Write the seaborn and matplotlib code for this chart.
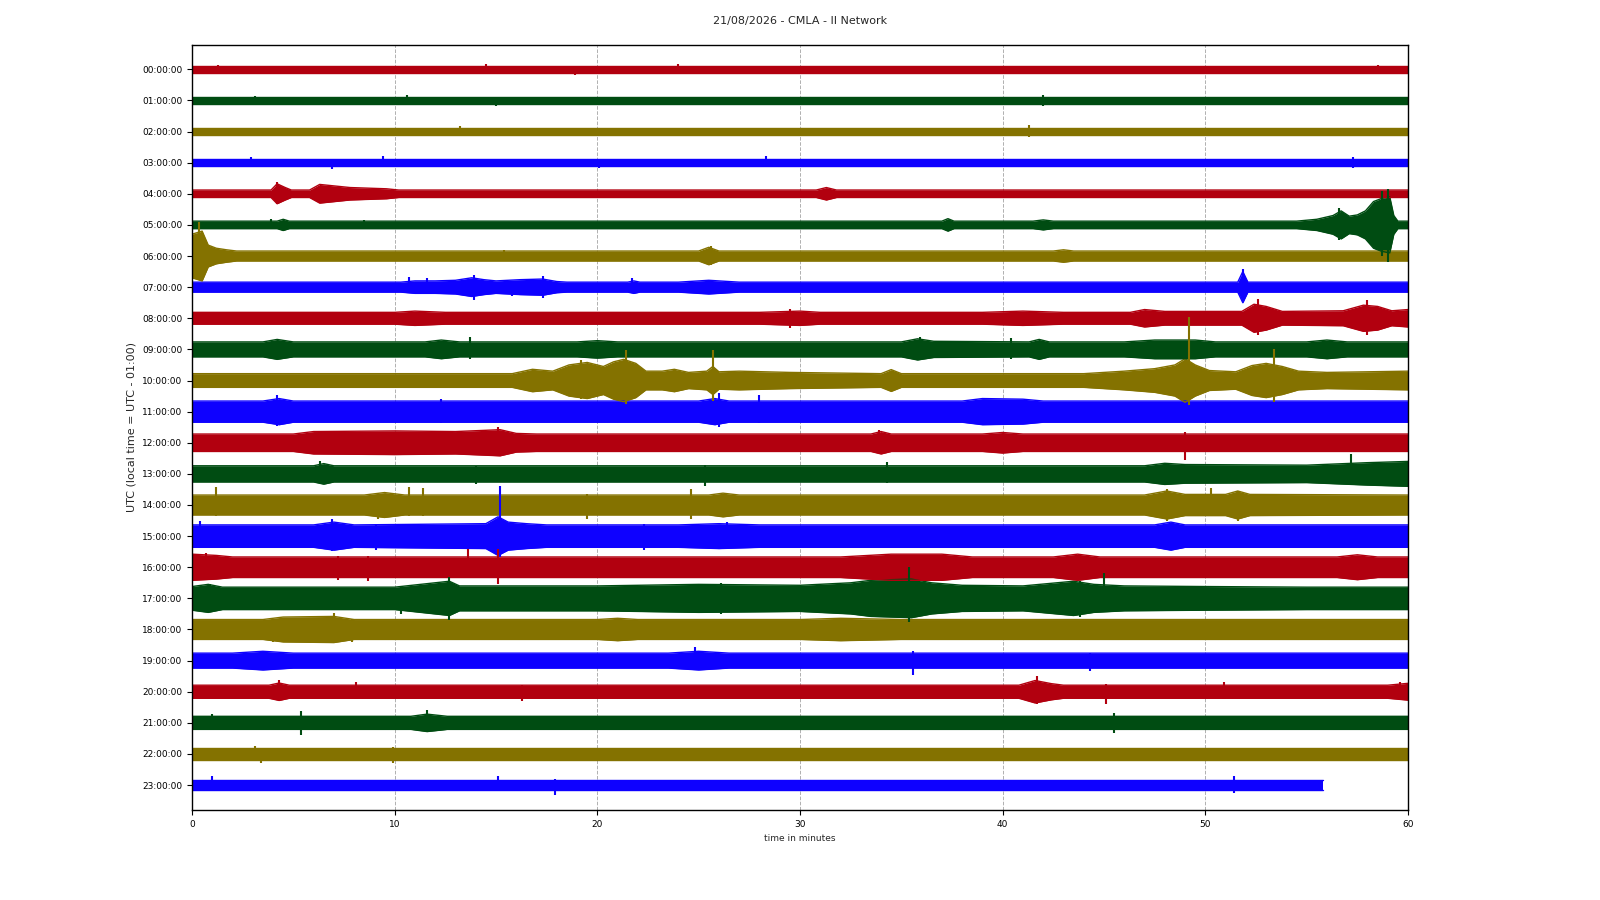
import numpy as np
import pandas as pd
import matplotlib
matplotlib.use("Agg")
import matplotlib.pyplot as plt
import seaborn as sns

title = "21/08/2026 - CMLA - II Network"
hour_labels = ["00:00:00", "01:00:00", "02:00:00", "03:00:00", "04:00:00",
               "05:00:00", "06:00:00", "07:00:00", "08:00:00", "09:00:00",
               "10:00:00", "11:00:00", "12:00:00", "13:00:00", "14:00:00",
               "15:00:00", "16:00:00", "17:00:00", "18:00:00", "19:00:00",
               "20:00:00", "21:00:00", "22:00:00", "23:00:00"]
trace_colors = ["#B2000F", "#004C12", "#847200", "#0E01FF"]

# background noise half-amplitude of each hourly trace (1 = trace spacing)
base_amp = [0.11, 0.12, 0.12, 0.12, 0.12, 0.12, 0.16, 0.16, 0.19, 0.24,
            0.22, 0.34, 0.28, 0.26, 0.32, 0.36, 0.33, 0.36, 0.32, 0.24,
            0.21, 0.21, 0.19, 0.17]
trace_end = [60] * 23 + [55.8]

# envelope vertices (minute, half-amplitude) where the noise rises
bursts = {
    4: [(3.9, 0.12), (4.2, 0.32), (4.6, 0.2), (4.9, 0.12), (5.8, 0.12),
        (6.3, 0.3), (6.9, 0.26), (7.8, 0.2), (9.6, 0.16), (10.2, 0.12),
        (30.8, 0.12), (31.3, 0.2), (31.8, 0.12)],
    5: [(4.2, 0.12), (4.5, 0.18), (4.8, 0.12), (37.0, 0.12), (37.3, 0.2),
        (37.6, 0.12), (41.5, 0.12), (42.0, 0.16), (42.5, 0.12), (54.5, 0.12),
        (55.5, 0.18), (56.3, 0.3), (56.7, 0.45), (57.1, 0.28), (57.5, 0.32),
        (57.9, 0.45), (58.3, 0.75), (58.7, 0.85), (59.1, 0.9), (59.3, 0.3),
        (59.5, 0.12)],
    6: [(0.0, 0.7), (0.5, 0.8), (0.8, 0.35), (1.2, 0.25), (1.7, 0.2),
        (2.2, 0.16), (25.0, 0.16), (25.5, 0.28), (26.0, 0.16), (42.5, 0.16),
        (43.0, 0.2), (43.5, 0.16)],
    7: [(10.3, 0.16), (11.0, 0.2), (12.0, 0.2), (13.0, 0.22), (13.8, 0.3),
        (14.4, 0.24), (15.0, 0.2), (16.2, 0.24), (17.3, 0.26), (18.0, 0.18),
        (18.5, 0.16), (21.5, 0.16), (21.8, 0.2), (22.1, 0.16), (24.0, 0.16),
        (25.5, 0.22), (27.0, 0.16), (51.6, 0.16), (51.85, 0.5), (52.1, 0.16)],
    8: [(10.0, 0.19), (11.0, 0.23), (12.5, 0.19), (28.0, 0.19), (30.0, 0.23),
        (31.0, 0.19), (39.0, 0.19), (41.0, 0.23), (43.0, 0.19), (46.3, 0.19),
        (47.0, 0.28), (48.0, 0.22), (51.8, 0.22), (52.4, 0.45), (53.0, 0.38),
        (53.8, 0.22), (56.8, 0.24), (57.8, 0.42), (58.5, 0.38), (59.2, 0.24),
        (60.0, 0.28)],
    9: [(3.5, 0.24), (4.2, 0.32), (5.0, 0.24), (11.5, 0.24), (12.3, 0.3),
        (13.2, 0.24), (19.0, 0.24), (20.0, 0.28), (21.0, 0.24), (35.0, 0.24),
        (35.8, 0.34), (36.6, 0.26), (41.3, 0.24), (41.8, 0.32), (42.3, 0.24),
        (46.0, 0.24), (47.5, 0.3), (49.5, 0.3), (50.5, 0.24), (55.0, 0.24),
        (56.0, 0.3), (57.0, 0.24)],
    10: [(15.8, 0.22), (16.8, 0.36), (17.8, 0.3), (18.6, 0.5), (19.5, 0.58),
         (20.3, 0.45), (20.8, 0.6), (21.3, 0.68), (21.9, 0.55), (22.4, 0.3),
         (23.2, 0.3), (23.8, 0.36), (24.5, 0.26), (25.4, 0.3), (25.7, 0.45),
         (26.0, 0.28), (27.0, 0.3), (29.5, 0.26), (34.0, 0.22), (34.5, 0.35),
         (35.0, 0.22), (44.0, 0.22), (46.0, 0.3), (47.5, 0.38), (48.5, 0.5),
         (49.0, 0.7), (49.5, 0.5), (50.2, 0.32), (51.5, 0.28), (52.3, 0.48),
         (53.0, 0.55), (53.8, 0.45), (54.6, 0.3), (56.0, 0.26), (58.0, 0.28),
         (60.0, 0.3)],
    11: [(3.5, 0.34), (4.3, 0.42), (5.0, 0.34), (25.0, 0.34), (25.8, 0.42),
         (26.5, 0.34), (38.0, 0.34), (39.0, 0.42), (41.0, 0.4), (42.0, 0.34)],
    12: [(5.0, 0.28), (6.0, 0.36), (10.0, 0.38), (13.0, 0.36), (14.5, 0.4),
         (15.2, 0.42), (16.0, 0.3), (17.0, 0.28), (33.5, 0.28), (34.0, 0.36),
         (34.5, 0.28), (39.0, 0.28), (40.0, 0.33), (41.0, 0.28)],
    13: [(6.0, 0.26), (6.5, 0.33), (7.0, 0.26), (47.0, 0.26), (48.0, 0.34),
         (49.0, 0.3), (55.0, 0.28), (58.0, 0.36), (60.0, 0.4)],
    14: [(8.5, 0.32), (9.5, 0.4), (10.5, 0.32), (25.5, 0.32), (26.2, 0.38),
         (27.0, 0.32), (47.0, 0.32), (48.1, 0.45), (49.0, 0.34), (51.0, 0.34),
         (51.6, 0.45), (52.2, 0.34)],
    15: [(6.0, 0.36), (7.0, 0.45), (8.0, 0.36), (14.5, 0.4), (15.1, 0.62),
         (15.6, 0.45), (16.5, 0.4), (17.5, 0.36), (24.0, 0.36), (26.0, 0.4),
         (28.0, 0.36), (47.5, 0.36), (48.3, 0.45), (49.0, 0.36)],
    16: [(0.0, 0.42), (1.2, 0.38), (2.0, 0.33), (32.0, 0.33), (34.5, 0.42),
         (37.0, 0.42), (38.5, 0.33), (42.5, 0.33), (43.7, 0.42), (44.8, 0.33),
         (56.5, 0.33), (57.5, 0.4), (58.5, 0.33)],
    17: [(0.0, 0.38), (0.8, 0.45), (1.5, 0.36), (10.0, 0.36), (12.7, 0.55),
         (13.2, 0.4), (20.0, 0.4), (25.0, 0.45), (30.0, 0.42), (32.5, 0.5),
         (33.5, 0.58), (35.5, 0.62), (36.5, 0.5), (38.0, 0.42), (41.0, 0.4),
         (43.5, 0.55), (44.5, 0.45), (46.0, 0.4), (50.0, 0.38), (55.0, 0.36)],
    18: [(3.5, 0.32), (4.5, 0.4), (7.0, 0.42), (8.0, 0.32), (20.0, 0.32),
         (21.0, 0.36), (22.0, 0.32), (30.0, 0.32), (32.0, 0.36), (35.0, 0.32)],
    19: [(2.0, 0.24), (3.5, 0.3), (5.0, 0.24), (23.5, 0.24), (25.0, 0.3),
         (26.5, 0.24)],
    20: [(3.8, 0.21), (4.3, 0.28), (4.8, 0.21), (40.8, 0.21), (41.6, 0.36),
         (42.4, 0.26), (43.0, 0.21), (59.0, 0.21), (60.0, 0.27)],
    21: [(10.8, 0.21), (11.6, 0.28), (12.6, 0.21)],
}

# single spikes: (hour, minute, reach up, reach down)
spikes = [
    (0, 1.3, 0.14, 0.12), (0, 14.5, 0.16, 0.12), (0, 18.9, 0.12, 0.18),
    (0, 24.0, 0.17, 0.10), (0, 58.5, 0.15, 0.15),
    (1, 3.1, 0.15, 0.13), (1, 10.6, 0.16, 0.12), (1, 15.0, 0.12, 0.17),
    (1, 42.0, 0.18, 0.18),
    (2, 13.2, 0.18, 0.15), (2, 41.3, 0.20, 0.16),
    (3, 2.9, 0.17, 0.12), (3, 6.9, 0.12, 0.19), (3, 9.4, 0.21, 0.12),
    (3, 20.1, 0.12, 0.17), (3, 28.3, 0.20, 0.15), (3, 57.3, 0.17, 0.17),
    (4, 4.2, 0.38, 0.32),
    (5, 3.9, 0.18, 0.14), (5, 8.5, 0.17, 0.12), (5, 56.6, 0.55, 0.50),
    (5, 58.7, 1.10, 1.00), (5, 59.0, 1.15, 1.20),
    (6, 0.35, 1.10, 0.75), (6, 15.4, 0.19, 0.15), (6, 25.6, 0.32, 0.30),
    (7, 10.7, 0.32, 0.15), (7, 11.6, 0.30, 0.15), (7, 13.9, 0.40, 0.40),
    (7, 15.8, 0.18, 0.28), (7, 17.3, 0.35, 0.35), (7, 21.7, 0.30, 0.20),
    (7, 51.85, 0.58, 0.48),
    (8, 29.5, 0.30, 0.30), (8, 52.6, 0.62, 0.55), (8, 58.0, 0.60, 0.55),
    (9, 13.7, 0.40, 0.30), (9, 35.9, 0.40, 0.30), (9, 40.4, 0.38, 0.30),
    (10, 19.2, 0.65, 0.60), (10, 21.4, 0.97, 0.75), (10, 25.7, 0.98, 0.65),
    (10, 49.2, 2.05, 0.80), (10, 53.4, 1.00, 0.70),
    (11, 4.2, 0.55, 0.45), (11, 12.3, 0.40, 0.36), (11, 26.0, 0.60, 0.50),
    (11, 28.0, 0.53, 0.36),
    (12, 15.1, 0.50, 0.34), (12, 33.9, 0.40, 0.35), (12, 49.0, 0.35, 0.55),
    (13, 6.3, 0.40, 0.28), (13, 14.0, 0.26, 0.32), (13, 25.3, 0.30, 0.40),
    (13, 34.3, 0.38, 0.28), (13, 57.2, 0.65, 0.30),
    (14, 1.2, 0.57, 0.34), (14, 9.2, 0.34, 0.45), (14, 10.7, 0.57, 0.34),
    (14, 11.4, 0.55, 0.34), (14, 19.5, 0.34, 0.45), (14, 24.6, 0.52, 0.45),
    (14, 48.1, 0.50, 0.50), (14, 50.3, 0.55, 0.35), (14, 51.6, 0.45, 0.50),
    (15, 0.4, 0.50, 0.38), (15, 6.9, 0.55, 0.47), (15, 9.1, 0.38, 0.45),
    (15, 15.2, 1.60, 0.68), (15, 22.3, 0.38, 0.43), (15, 26.4, 0.45, 0.38),
    (16, 0.7, 0.45, 0.35), (16, 7.2, 0.35, 0.40), (16, 8.7, 0.35, 0.45),
    (16, 13.6, 0.60, 0.30), (16, 15.1, 0.58, 0.55),
    (17, 0.9, 0.45, 0.40), (17, 10.3, 0.38, 0.50), (17, 12.7, 0.68, 0.68),
    (17, 26.1, 0.50, 0.50), (17, 35.4, 1.00, 0.75), (17, 43.8, 0.55, 0.60),
    (17, 45.0, 0.80, 0.45),
    (18, 4.0, 0.35, 0.40), (18, 7.0, 0.54, 0.40), (18, 7.9, 0.35, 0.41),
    (19, 24.8, 0.45, 0.30), (19, 35.6, 0.30, 0.45), (19, 44.3, 0.24, 0.34),
    (20, 4.3, 0.38, 0.25), (20, 8.1, 0.30, 0.22), (20, 16.3, 0.22, 0.31),
    (20, 41.7, 0.50, 0.38), (20, 45.1, 0.25, 0.40), (20, 50.9, 0.30, 0.22),
    (20, 59.6, 0.30, 0.22),
    (21, 1.0, 0.30, 0.22), (21, 5.4, 0.37, 0.40), (21, 11.6, 0.40, 0.30),
    (21, 45.5, 0.31, 0.31),
    (22, 3.1, 0.26, 0.19), (22, 3.4, 0.19, 0.28), (22, 9.9, 0.22, 0.30),
    (23, 1.0, 0.29, 0.18), (23, 15.1, 0.29, 0.18), (23, 17.9, 0.18, 0.32),
    (23, 51.4, 0.28, 0.25),
]

# --- build a long table of envelope vertices --------------------------------
rows = []
for hour in range(len(hour_labels)):
    pts = sorted(bursts.get(hour, []))
    if not pts or pts[0][0] > 0:
        pts = [(0.0, base_amp[hour])] + pts
    if pts[-1][0] < trace_end[hour]:
        pts = pts + [(trace_end[hour], base_amp[hour])]
    for minute, amp in pts:
        rows.append({"hour": hour, "minute": minute, "amp": amp})
env = pd.DataFrame(rows)
env["upper"] = env["hour"] - env["amp"]
env["lower"] = env["hour"] + env["amp"]

spk = pd.DataFrame(spikes, columns=["hour", "minute", "up", "down"])

# --- plot -------------------------------------------------------------------
sns.set_style("ticks")
plt.rcParams["font.family"] = ["DejaVu Sans"]

fig = plt.figure(figsize=(16, 9), dpi=100)
ax = fig.add_axes([0.12, 0.10, 0.76, 0.85])

palette = [trace_colors[h % 4] for h in range(len(hour_labels))]

for hour, grp in env.groupby("hour"):
    ax.fill_between(grp["minute"], grp["upper"], grp["lower"],
                    color=palette[hour], linewidth=0)

sns.lineplot(data=env, x="minute", y="upper", hue="hour", palette=palette,
             estimator=None, sort=False, linewidth=1.0, legend=False, ax=ax)
sns.lineplot(data=env, x="minute", y="lower", hue="hour", palette=palette,
             estimator=None, sort=False, linewidth=1.0, legend=False, ax=ax)

ax.vlines(spk["minute"], spk["hour"] - spk["up"], spk["hour"] + spk["down"],
          colors=[palette[h] for h in spk["hour"]], linewidth=1.5)

ax.set_xlim(0, 60)
ax.set_ylim(23.8, -0.78)
ax.set_xticks(np.arange(0, 61, 10))
ax.set_yticks(range(len(hour_labels)))
ax.set_yticklabels(hour_labels)
ax.tick_params(axis="both", labelsize=6.5, length=3.5, width=0.8,
               colors="black")
ax.xaxis.grid(True, linestyle="--", color="#b0b0b0", linewidth=0.7)
ax.set_axisbelow(True)
for sp in ax.spines.values():
    sp.set_color("black")
    sp.set_linewidth(1.0)

ax.set_xlabel("time in minutes", fontsize=6.5)
ax.set_ylabel("UTC (local time = UTC - 01:00)", fontsize=8)
fig.suptitle(title, fontsize=8, y=0.982)

fig.savefig("out.png", dpi=100)
